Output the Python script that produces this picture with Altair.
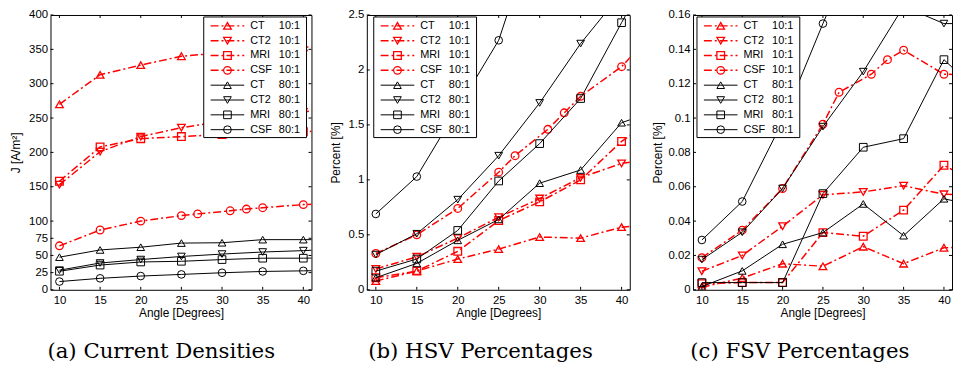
import altair as alt
import pandas as pd

# ---------------- data ----------------
angles = [10, 15, 20, 25, 30, 35, 40, 45]
csf10_angles = [10, 15, 20, 25, 27, 31, 33, 35, 40, 45]
x_ticks = [10, 15, 20, 25, 30, 35, 40]

series = ["CT 10:1", "CT2 10:1", "MRI 10:1", "CSF 10:1",
          "CT 80:1", "CT2 80:1", "MRI 80:1", "CSF 80:1"]
names = ["CT", "CT2", "MRI", "CSF", "CT", "CT2", "MRI", "CSF"]
ratios = ["10:1"] * 4 + ["80:1"] * 4

# (a) current densities J [A/m^2]
j_ct_10 = [270, 313, 327, 340, 345, 349, 353, 357]
j_ct2_10 = [153, 201, 223, 236, 245, 252, 259, 266]
j_mri_10 = [158, 208, 220, 223, 226, 228, 230, 233]
j_csf_10 = [64, 87, 100, 108, 110.5, 115, 117.5, 119.5, 124, 127]
j_ct_80 = [47.5, 58, 62, 68, 68.5, 73, 73, 73]
j_ct2_80 = [28.5, 39, 44, 48.5, 52, 55, 57, 60]
j_mri_80 = [27, 36, 40.5, 41.5, 44, 46, 46, 47]
j_csf_80 = [12, 16.7, 20, 22.4, 24.8, 26.7, 27.6, 28.5]

# (b) HSV percentages
h_ct_10 = [0.08, 0.17, 0.28, 0.37, 0.48, 0.47, 0.57, 0.60]
h_ct2_10 = [0.19, 0.30, 0.47, 0.66, 0.83, 1.02, 1.15, 1.20]
h_mri_10 = [0.11, 0.17, 0.35, 0.63, 0.80, 1.00, 1.35, 1.60]
h_csf_10 = [0.33, 0.50, 0.74, 1.07, 1.22, 1.46, 1.61, 1.76, 2.03, 2.43]
h_ct_80 = [0.11, 0.24, 0.45, 0.64, 0.97, 1.09, 1.52, 1.65]
h_ct2_80 = [0.32, 0.51, 0.82, 1.22, 1.70, 2.24, 2.70, 3.20]
h_mri_80 = [0.17, 0.28, 0.54, 0.99, 1.33, 1.74, 2.43, 3.10]
h_csf_80 = [0.69, 1.03, 1.65, 2.27, 3.40, 4.60, 5.80, 7.00]

# (c) FSV percentages
f_ct_10 = [0.0015, 0.0068, 0.0152, 0.0137, 0.0251, 0.0152, 0.0245, 0.025]
f_ct2_10 = [0.0108, 0.0200, 0.0370, 0.0553, 0.0570, 0.0606, 0.0556, 0.055]
f_mri_10 = [0.0035, 0.0042, 0.0042, 0.0333, 0.0312, 0.0464, 0.0725, 0.060]
f_csf_10 = [0.0187, 0.0347, 0.0590, 0.0964, 0.1150, 0.1255, 0.1340, 0.1395, 0.1255, 0.125]
f_ct_80 = [0.0019, 0.0110, 0.0265, 0.0333, 0.0500, 0.0315, 0.0530, 0.048]
f_ct2_80 = [0.0176, 0.0335, 0.0590, 0.0950, 0.1270, 0.1650, 0.1550, 0.155]
f_mri_80 = [0.0042, 0.0042, 0.0042, 0.0560, 0.0830, 0.0880, 0.1340, 0.112]
f_csf_80 = [0.0290, 0.0514, 0.0980, 0.1550, 0.2100, 0.2600, 0.3000, 0.340]

j_ticks = [0, 25, 50, 75, 100, 150, 200, 250, 300, 350, 400]
h_ticks = [0, 0.5, 1, 1.5, 2, 2.5]
f_ticks = [0, 0.02, 0.04, 0.06, 0.08, 0.1, 0.12, 0.14, 0.16]

# ---------------- styles ----------------
RED = "#ff0000"
BLACK = "#000000"
DASHDOT = [8, 3, 2, 3]
SANS = "Liberation Sans, Arial, Helvetica, sans-serif"
shapes = ["triangle-up", "triangle-down", "square", "circle"] * 2
sizes = [60, 60, 36, 52] * 2
H = 278
X_DOMAIN = [8.9, 41]


def long_df(vals):
    rows = []
    for i, (s, v) in enumerate(zip(series, vals)):
        xs = csf10_angles if i == 3 else angles
        for a, y in zip(xs, v):
            rows.append({"series": s, "ratio": ratios[i], "angle": a, "value": y})
    return pd.DataFrame(rows)


def panel(vals, ydom, yticks, yfmt, ytitle, W, caption, dx, leg_left, tpad):
    df = long_df(vals)
    red = df[df["ratio"] == "10:1"]
    blk = df[df["ratio"] == "80:1"]

    xs = alt.Scale(domain=X_DOMAIN, nice=False, zero=False)
    ys = alt.Scale(domain=ydom, nice=False, zero=False)
    x_enc = alt.X("angle:Q", scale=xs,
                  axis=alt.Axis(values=x_ticks, format="d", title="Angle [Degrees]",
                                labelPadding=5, titlePadding=2, labelFlush=False))
    y_enc = alt.Y("value:Q", scale=ys,
                  axis=alt.Axis(values=yticks, format=yfmt, title=ytitle,
                                labelPadding=3, titlePadding=tpad, labelFlush=False))
    shape_enc = alt.Shape("series:N", scale=alt.Scale(domain=series, range=shapes), legend=None)
    size_enc = alt.Size("series:O", scale=alt.Scale(domain=series, range=sizes), legend=None)

    red_line = alt.Chart(red).mark_line(clip=True, color=RED, strokeWidth=1.5,
                                        strokeDash=DASHDOT).encode(x=x_enc, y=y_enc, detail="series:N")
    red_pts = alt.Chart(red).mark_point(clip=True, color=RED, filled=False, strokeWidth=1.3,
                                        opacity=1).encode(x=x_enc, y=y_enc, shape=shape_enc, size=size_enc)
    blk_line = alt.Chart(blk).mark_line(clip=True, color=BLACK, strokeWidth=1).encode(
        x=x_enc, y=y_enc, detail="series:N")
    blk_pts = alt.Chart(blk).mark_point(clip=True, color=BLACK, filled=False, strokeWidth=1,
                                        opacity=1).encode(x=x_enc, y=y_enc, shape=shape_enc, size=size_enc)

    xt = pd.DataFrame({"angle": x_ticks})
    yt = pd.DataFrame({"value": yticks})
    t_bot = alt.Chart(xt).mark_rule(color=BLACK).encode(x=x_enc, y=alt.value(H), y2=alt.value(H - 3))
    t_top = alt.Chart(xt).mark_rule(color=BLACK).encode(x=x_enc, y=alt.value(0), y2=alt.value(3))
    t_lft = alt.Chart(yt).mark_rule(color=BLACK).encode(y=y_enc, x=alt.value(0), x2=alt.value(3))
    t_rgt = alt.Chart(yt).mark_rule(color=BLACK).encode(y=y_enc, x=alt.value(W - 3), x2=alt.value(W))

    main = alt.layer(red_line, red_pts, blk_line, blk_pts, t_bot, t_top, t_lft, t_rgt)

    # legend box
    L, T = leg_left, 2
    leg = pd.DataFrame({"series": series, "name": names, "ratio": ratios})
    ly = alt.Y("series:N", scale=alt.Scale(type="point", domain=series,
                                           range=[T + 9, T + 114], padding=0), axis=None)
    box = alt.Chart(pd.DataFrame({"k": [0]})).mark_rect(fill="white", stroke=BLACK, strokeWidth=1).encode(
        x=alt.value(L), x2=alt.value(L + 104), y=alt.value(T), y2=alt.value(T + 122))
    lr_rule = alt.Chart(leg.iloc[:4]).mark_rule(color=RED, strokeWidth=1.5, strokeDash=DASHDOT).encode(
        y=ly, x=alt.value(L + 7), x2=alt.value(L + 41))
    lr_pts = alt.Chart(leg.iloc[:4]).mark_point(color=RED, filled=False, strokeWidth=1.3, opacity=1).encode(
        y=ly, x=alt.value(L + 24), shape=shape_enc, size=size_enc)
    lb_rule = alt.Chart(leg.iloc[4:]).mark_rule(color=BLACK, strokeWidth=1).encode(
        y=ly, x=alt.value(L + 7), x2=alt.value(L + 41))
    lb_pts = alt.Chart(leg.iloc[4:]).mark_point(color=BLACK, filled=False, strokeWidth=1, opacity=1).encode(
        y=ly, x=alt.value(L + 24), shape=shape_enc, size=size_enc)
    l_name = alt.Chart(leg).mark_text(align="left", baseline="middle", font=SANS,
                                      fontSize=11, color=BLACK).encode(y=ly, x=alt.value(L + 47), text="name:N")
    l_ratio = alt.Chart(leg).mark_text(align="left", baseline="middle", font=SANS,
                                       fontSize=11, color=BLACK).encode(y=ly, x=alt.value(L + 76), text="ratio:N")
    legend = alt.layer(box, lr_rule, lr_pts, lb_rule, lb_pts, l_name, l_ratio)

    return alt.layer(main, legend).resolve_scale(y="independent").properties(
        width=W, height=H,
        title=alt.TitleParams(text=caption, orient="bottom", anchor="middle", frame="group",
                              font="DejaVu Serif", fontSize=21.5, fontWeight="normal",
                              color=BLACK, offset=22, dx=dx))


pa = panel([j_ct_10, j_ct2_10, j_mri_10, j_csf_10, j_ct_80, j_ct2_80, j_mri_80, j_csf_80],
           [0, 400], j_ticks, "d", "J [A/m²]", 264, "(a) Current Densities", -20, 155, 6)
pb = panel([h_ct_10, h_ct2_10, h_mri_10, h_csf_10, h_ct_80, h_ct2_80, h_mri_80, h_csf_80],
           [0, 2.5], h_ticks, ".1~f", "Percent [%]", 266, "(b) HSV Percentages", -18, 7, 6)
pc = panel([f_ct_10, f_ct2_10, f_mri_10, f_csf_10, f_ct_80, f_ct2_80, f_mri_80, f_csf_80],
           [0, 0.16], f_ticks, ".2~f", "Percent [%]", 262, "(c) FSV Percentages", -23, 4, 4)

chart = alt.hconcat(pa, alt.hconcat(pb, pc, spacing=64, bounds="flush"),
                    spacing=56, bounds="flush").properties(
    padding={"left": 1, "top": -2, "right": 0, "bottom": 0}
).configure_view(stroke=BLACK, strokeWidth=1).configure_axis(
    labelFont=SANS, titleFont=SANS, labelFontSize=11.5, titleFontSize=12,
    labelColor=BLACK, titleColor=BLACK, titleFontWeight="normal", grid=False, domain=False,
    ticks=False, tickSize=0
)

chart.save("out.html", embed_options={"renderer": "svg", "actions": False})
